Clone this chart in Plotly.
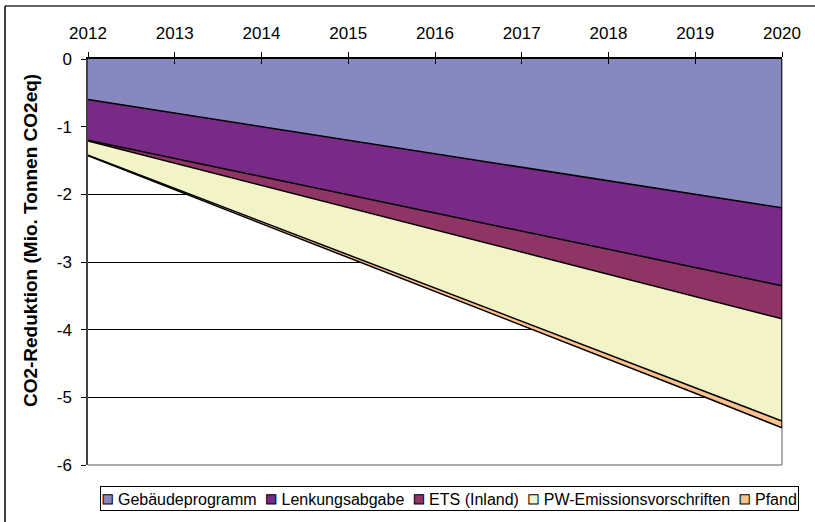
import plotly.graph_objects as go

years = [2012, 2013, 2014, 2015, 2016, 2017, 2018, 2019, 2020]
series_names = ["Gebäudeprogramm", "Lenkungsabgabe", "ETS (Inland)", "PW-Emissionsvorschriften", "Pfand"]
gebaeude = [-0.60, -0.80, -1.00, -1.20, -1.40, -1.60, -1.80, -2.00, -2.20]
lenkung = [-0.60, -0.67, -0.74, -0.81, -0.88, -0.94, -1.01, -1.08, -1.15]
ets = [-0.01, -0.07, -0.13, -0.19, -0.25, -0.31, -0.37, -0.43, -0.49]
pw = [-0.21, -0.37, -0.54, -0.70, -0.86, -1.02, -1.19, -1.35, -1.51]
pfand = [-0.01, -0.02, -0.03, -0.04, -0.05, -0.06, -0.07, -0.08, -0.10]
y_ticks = [0, -1, -2, -3, -4, -5, -6]
y_tick_labels = ["0", "-1", "-2", "-3", "-4", "-5", "-6"]
colors = ["#8888C0", "#782A86", "#8F3566", "#F2F4C8", "#FCC18E"]

all_series = [gebaeude, lenkung, ets, pw, pfand]

fig = go.Figure()
for name, vals, col in zip(series_names, all_series, colors):
    fig.add_trace(go.Scatter(
        x=years, y=vals, name=name, stackgroup="one", mode="lines",
        line=dict(color="black", width=1.5), fillcolor=col, showlegend=False,
        hoverinfo="skip"))

# right edge outline of the stacked area
total_last = sum(s[-1] for s in all_series)
fig.add_trace(go.Scatter(x=[years[-1], years[-1]], y=[0, total_last], mode="lines",
                         line=dict(color="black", width=1.5), showlegend=False,
                         hoverinfo="skip"))

# overlay axis for inward half of the crossing x ticks
fig.add_trace(go.Scatter(x=[years[0]], y=[None], xaxis="x2", showlegend=False,
                         hoverinfo="skip"))

FONT = "Liberation Sans, Arial, sans-serif"
fig.update_layout(
    width=815, height=522,
    margin=dict(l=88, r=33, t=59, b=57, autoexpand=False),
    paper_bgcolor="white", plot_bgcolor="white",
    font=dict(family=FONT, size=17, color="black"),
    showlegend=False,
    xaxis=dict(range=[years[0], years[-1]], side="top", tickvals=years,
               showgrid=False, zeroline=False, showline=True,
               linecolor="black", linewidth=1.5, ticks="outside", ticklen=5,
               tickcolor="black", tickwidth=1, ticklabelstandoff=6,
               tickfont=dict(size=17)),
    xaxis2=dict(range=[years[0], years[-1]], overlaying="x", side="top",
                tickvals=years, showticklabels=False, showgrid=False,
                zeroline=False, ticks="inside", ticklen=5, tickcolor="black",
                tickwidth=1),
    yaxis=dict(range=[-6, 0], tickvals=y_ticks, ticktext=y_tick_labels,
               showgrid=True, gridcolor="black", gridwidth=1, zeroline=False,
               showline=True, linecolor="#404040", linewidth=1.5,
               ticks="outside", ticklen=5, tickcolor="black",
               ticklabelstandoff=6, tickfont=dict(size=17)),
)

# legend: outlined coloured swatches followed by the series names
NB = "\u00a0"
SQ = 19
legend_text = (NB * 2).join(
    f'<span style="font-size:{SQ}px;color:{c};stroke:#000;stroke-width:1px">'
    f'\u25a0</span>{NB}{n}'
    for n, c in zip(series_names, colors))
fig.add_annotation(text=legend_text, xref="paper", yref="paper", x=0.521,
                   y=-0.0837, xanchor="center", yanchor="middle",
                   showarrow=False, font=dict(size=16, color="black"),
                   bgcolor="white", bordercolor="black", borderwidth=1,
                   borderpad=1)

fig.add_annotation(text="<b>CO2-Reduktion (Mio. Tonnen CO2eq)</b>",
                   xref="paper", yref="paper", x=-0.0836, y=0.554,
                   textangle=-90, showarrow=False, font=dict(size=19),
                   xanchor="center", yanchor="middle")

# plot-area border (right below traces, bottom above)
fig.add_shape(type="line", xref="paper", yref="paper", x0=1, x1=1, y0=0, y1=1,
              line=dict(color="#909090", width=1.5), layer="below")
fig.add_shape(type="line", xref="paper", yref="paper", x0=0, x1=1, y0=0, y1=0,
              line=dict(color="#909090", width=1.5), layer="above")
# outer chart frame (top and left visible)
fig.add_shape(type="line", xref="paper", yref="paper", x0=-0.1196, x1=1.06,
              y0=1.1305, y1=1.1305, line=dict(color="#303030", width=1.5))
fig.add_shape(type="line", xref="paper", yref="paper", x0=-0.1196, x1=-0.1196,
              y0=-0.16, y1=1.1305, line=dict(color="black", width=1.5))

fig.write_html("out.html", config={"displayModeBar": False},
               post_script="document.body.style.margin='0';"
                           "document.body.style.overflow='hidden';")
